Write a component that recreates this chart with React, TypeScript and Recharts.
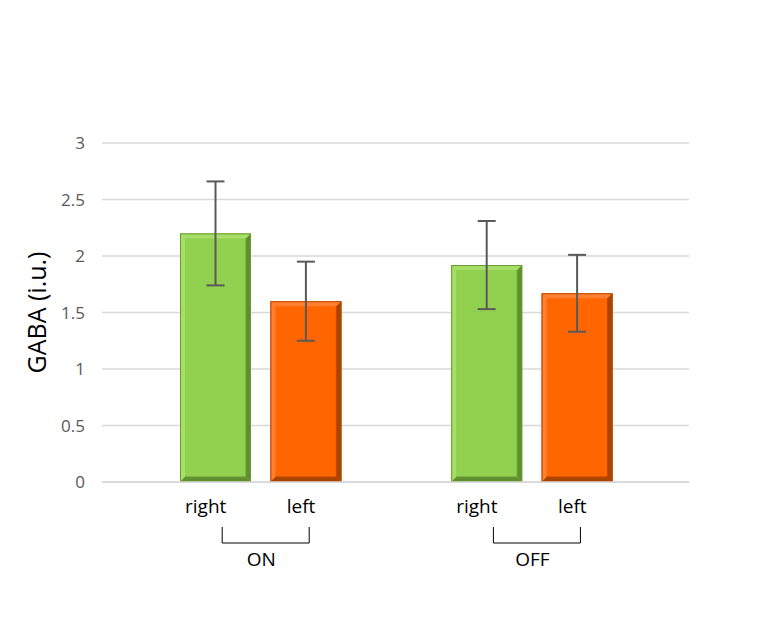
import React from "react";
import { BarChart, Bar, XAxis, YAxis, CartesianGrid, ErrorBar } from "recharts";

const categories = ["right", "left", "", "right", "left"];
const groups = ["ON", "ON", "", "OFF", "OFF"];
const gaba = [2.2, 1.6, null, 1.92, 1.67];
const sem = [0.46, 0.35, null, 0.39, 0.34];
const yTicks = [0, 0.5, 1, 1.5, 2, 2.5, 3];

const data = categories.map((c, i) => ({
  key: groups[i] ? `${groups[i]}-${c}` : "gap",
  label: c,
  group: groups[i],
  value: gaba[i],
  err: sem[i],
}));

const FONT = "'Open Sans', Lato, sans-serif";

const palette: Record<string, { main: string; light: string; dark: string; edge: string }> = {
  right: { main: "#92D050", light: "#a6de68", dark: "#5e8f2c", edge: "#6a9a36" },
  left: { main: "#FF6600", light: "#ff8030", dark: "#a84300", edge: "#b84a00" },
};

const BevelBar = (props: any) => {
  const { x, y, width: w, height: h, payload } = props;
  if (!payload || payload.value == null || !h) return null;
  const c = palette[payload.label];
  const b = 5;
  return (
    <g>
      <rect x={x} y={y} width={w} height={h} fill={c.main} />
      <polygon points={`${x},${y} ${x + w},${y} ${x + w - b},${y + b} ${x + b},${y + b}`} fill={c.light} />
      <polygon points={`${x},${y} ${x + b},${y + b} ${x + b},${y + h - b} ${x},${y + h}`} fill={c.light} />
      <polygon points={`${x + w},${y} ${x + w},${y + h} ${x + w - b},${y + h - b} ${x + w - b},${y + b}`} fill={c.dark} />
      <polygon points={`${x},${y + h} ${x + w},${y + h} ${x + w - b},${y + h - b} ${x + b},${y + h - b}`} fill={c.dark} />
      <line x1={x + w - b} y1={y + b} x2={x + w - b} y2={y + h - b} stroke={c.edge} strokeWidth={1} />
      <line x1={x + b} y1={y + h - b} x2={x + w - b} y2={y + h - b} stroke={c.edge} strokeWidth={1} />
      <rect x={x + 0.5} y={y + 0.5} width={w - 1} height={h - 1} fill="none" stroke={c.edge} strokeWidth={1} />
    </g>
  );
};

const XTick = (props: any) => {
  const { x, payload } = props;
  const i = payload.index;
  const label = categories[i];
  if (!label) return null;
  const isFirst = i === 0 || groups[i - 1] !== groups[i];
  const shift = label === "right" ? -9.5 : -4.5;
  return (
    <g>
      <text x={x + shift} y={513} textAnchor="middle" fontSize={19} fontFamily={FONT} fill="#000">
        {label}
      </text>
      {isFirst && (
        <g>
          <path d={`M${x + 7},527 L${x + 7},543 L${x + 94},543 L${x + 94},527`} fill="none" stroke="#000" strokeWidth={1} />
          <text x={x + 46} y={566} textAnchor="middle" fontSize={19} fontFamily={FONT} fill="#000">
            {groups[i]}
          </text>
        </g>
      )}
    </g>
  );
};

export default function App() {
  return (
    <div style={{ margin: "-8px 0 0 -8px", width: 767, height: 638, background: "#fff", position: "relative" }}>
      <BarChart
        width={767}
        height={638}
        data={data}
        margin={{ top: 143, right: 78, bottom: 0, left: 0 }}
        barSize={71}
      >
        <CartesianGrid vertical={false} stroke="#d9d9d9" strokeWidth={1.5} />
        <XAxis
          dataKey="key"
          height={156}
          padding={{ left: 68, right: 67 }}
          axisLine={{ stroke: "#d9d9d9", strokeWidth: 1.5 }}
          tickLine={false}
          interval={0}
          tick={<XTick />}
        />
        <YAxis
          width={102}
          domain={[0, 3]}
          ticks={yTicks}
          axisLine={false}
          tickLine={false}
          tickSize={0}
          tickMargin={17}
          tick={{ fontSize: 17, fill: "#595959", fontFamily: FONT }}
          label={{
            value: "GABA (i.u.)",
            angle: -90,
            position: "insideLeft",
            dx: 32,
            style: { fontSize: 25, fill: "#000", fontFamily: FONT, textAnchor: "middle" },
          }}
        />
        <Bar dataKey="value" isAnimationActive={false} shape={<BevelBar />}>
          <ErrorBar dataKey="err" width={9} stroke="#595959" strokeWidth={2} />
        </Bar>
      </BarChart>
    </div>
  );
}
